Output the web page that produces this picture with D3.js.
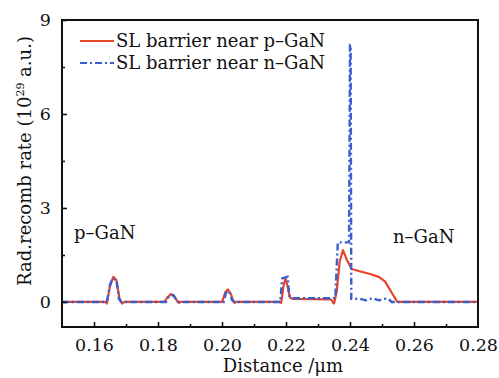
<!DOCTYPE html>
<html><head><meta charset="utf-8">
<script src="https://cdn.jsdelivr.net/npm/d3@7"></script>
<style>body{margin:0;background:#fff}svg{display:block}text{font-family:"DejaVu Serif",serif;fill:#111}</style>
</head><body>
<script>
// Data
const redX = [0.150,0.1635,0.1640,0.1650,0.1660,0.1670,0.1680,0.1688,0.1695,0.1820,0.1830,0.1840,0.1850,0.1860,0.1865,0.1870,0.2000,0.2010,0.2018,0.2028,0.2035,0.2040,0.2045,0.2180,0.2185,0.2192,0.2198,0.2205,0.2212,0.2220,0.2340,0.2350,0.2358,0.2368,0.2378,0.2390,0.2405,0.2430,0.2460,0.2490,0.2510,0.2530,0.2548,0.280];
const redY = [0,0,-0.05,0.5,0.8,0.7,0.1,-0.05,0,0,0.15,0.25,0.2,0.02,-0.03,0,0,0.3,0.4,0.25,0.02,-0.03,0,0,-0.03,0.5,0.75,0.5,0.15,0.1,0.08,-0.05,0.3,1.3,1.65,1.35,1.05,0.98,0.9,0.8,0.65,0.3,0,0];
const blueX = [0.150,0.1640,0.1650,0.1658,0.1670,0.1678,0.1685,0.1825,0.1835,0.1848,0.1858,0.1865,0.2005,0.2013,0.2022,0.2032,0.2040,0.2182,0.2188,0.2205,0.2210,0.2220,0.2354,0.2362,0.2397,0.2400,0.2402,0.2404,0.2430,0.2450,0.2470,0.2490,0.2510,0.2520,0.2530,0.280];
const blueY = [0,0,0.55,0.75,0.7,0.1,0,0,0.2,0.22,0.05,0,0,0.3,0.35,0.05,0,0,0.75,0.8,0.2,0.12,0.12,1.9,1.9,8.2,8.2,0.1,0.1,0.05,0.12,0.05,0.1,0.1,0,0];
const xMajor = [0.16,0.18,0.20,0.22,0.24,0.26,0.28];
const xMinor = [0.17,0.19,0.21,0.23,0.25,0.27];
const yMajor = [0,3,6,9];
const yMinor = [1.5,4.5,7.5];
const seriesNames = ["SL barrier near p–GaN","SL barrier near n–GaN"];

const W=499,H=378, L=62,R=478,T=20,B=327;
const svg=d3.select("body").append("svg").attr("width",W).attr("height",H);
const x=d3.scaleLinear().domain([0.15,0.28]).range([L,R]);
const y=d3.scaleLinear().domain([-0.8,9]).range([B,T]);

const line=d3.line().x(d=>x(d[0])).y(d=>y(d[1]));
const red=redX.map((v,i)=>[v,redY[i]]);
const blue=blueX.map((v,i)=>[v,blueY[i]]);

svg.append("rect").attr("x",72).attr("y",26).attr("width",262).attr("height",48).attr("fill","#fff");

svg.append("path").datum(red).attr("d",line).attr("fill","none").attr("stroke","#e8442a").attr("stroke-width",2.2).attr("stroke-linejoin","round");
svg.append("path").datum(blue).attr("d",line).attr("fill","none").attr("stroke","#3a5fcd").attr("stroke-width",2.4).attr("stroke-dasharray","7,3,2,3");

// axes (ticks inward)
const gx=svg.append("g").attr("transform",`translate(0,${B})`)
  .call(d3.axisBottom(x).tickValues(xMajor).tickSizeInner(-5).tickSizeOuter(0).tickPadding(12).tickFormat(d3.format(".2f")));
gx.selectAll(".tick").filter(d=>d===0.28).select("line").remove();
svg.append("g").attr("transform",`translate(0,${B})`)
  .call(d3.axisBottom(x).tickValues(xMinor).tickSizeInner(-3).tickSizeOuter(0).tickFormat(""));
svg.append("g").attr("transform",`translate(${L},0)`)
  .call(d3.axisLeft(y).tickValues(yMajor).tickSizeInner(-5).tickSizeOuter(0).tickPadding(11));
svg.append("g").attr("transform",`translate(${L},0)`)
  .call(d3.axisLeft(y).tickValues(yMinor).tickSizeInner(-3).tickSizeOuter(0).tickFormat(""));
svg.selectAll(".domain").remove();
svg.selectAll(".tick line").attr("stroke","#111").attr("stroke-width",1.6);
svg.selectAll(".tick text").attr("font-family","DejaVu Serif").attr("font-size",17.5).attr("fill","#111");

svg.append("rect").attr("x",L).attr("y",T).attr("width",R-L).attr("height",B-T)
  .attr("fill","none").attr("stroke","#111").attr("stroke-width",2);

// legend
const lg=[{c:"#e8442a",d:null,y:41},{c:"#3a5fcd",d:"7,3,2,3",y:63}];
lg.forEach((o,i)=>{
  svg.append("line").attr("x1",80).attr("x2",114).attr("y1",o.y).attr("y2",o.y)
    .attr("stroke",o.c).attr("stroke-width",2.2).attr("stroke-dasharray",o.d);
  svg.append("text").attr("x",116).attr("y",o.y+6).attr("font-size",18).text(seriesNames[i]);
});

// annotations
svg.append("text").attr("x",74).attr("y",239).attr("font-size",18).text("p–GaN");
svg.append("text").attr("x",393).attr("y",243).attr("font-size",18).text("n–GaN");

// axis titles
svg.append("text").attr("x",283).attr("y",372).attr("text-anchor","middle").attr("font-size",18).text("Distance /μm");
const yl=svg.append("text").attr("transform","translate(31,161) rotate(-90)").attr("text-anchor","middle").attr("font-size",18);
yl.append("tspan").text("Rad.recomb rate (10");
yl.append("tspan").attr("font-size",11).attr("dy",-7).text("29");
yl.append("tspan").attr("dy",7).text(" a.u.)");
</script>
</body></html>
